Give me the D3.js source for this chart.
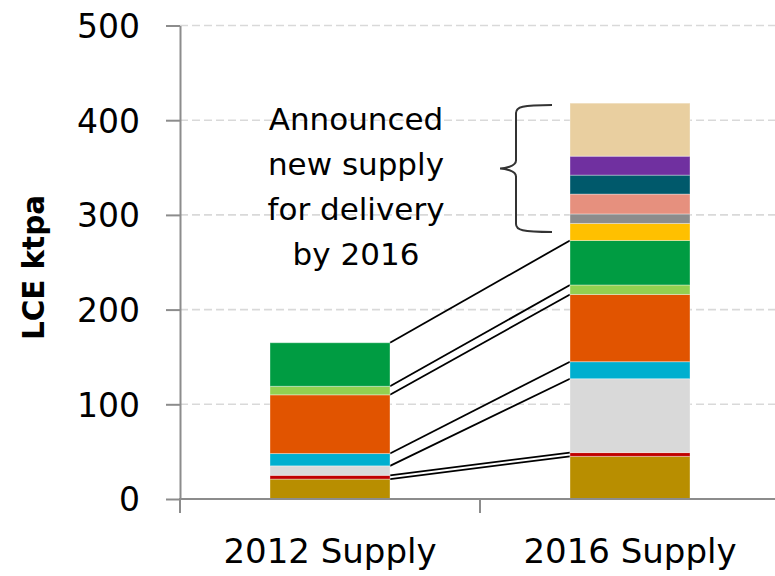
<!DOCTYPE html>
<html>
<head>
<meta charset="utf-8">
<script src="https://cdn.jsdelivr.net/npm/d3@7"></script>
<style>
  html, body { margin: 0; padding: 0; background: #fff; }
  svg { display: block; font-family: "DejaVu Sans", sans-serif; }
</style>
</head>
<body>
<svg id="chart" width="775" height="576"></svg>
<script>
// ---- data ----
const categories = ["2012 Supply", "2016 Supply"];
const seriesNames = ["s1", "s2", "s3", "s4", "s5", "s6", "s7", "s8", "s9", "s10", "s11", "s12", "s13"];
const seriesColors = ["#B88E00", "#C00000", "#D9D9D9", "#00AFCF", "#E15400", "#92D050", "#009C42",
                      "#FFC000", "#8C8C8C", "#E6907E", "#00596B", "#7030A0", "#E9CFA0"];
const values2012 = [21, 4, 10, 13, 62, 9, 46, 0, 0, 0, 0, 0, 0];
const values2016 = [45, 4, 78, 18, 71, 10, 47, 18, 10, 21, 20, 20, 56];
const yTicks = [0, 100, 200, 300, 400, 500];
const yTitle = "LCE ktpa";
const noteLines = ["Announced", "new supply", "for delivery", "by 2016"];
const braceRange = [416, 282];

// ---- layout ----
const svg = d3.select("#chart");
const mLeft = 180, mRight = 780, mTop = 25.5, mBottom = 499;

const y = d3.scaleLinear().domain([0, 500]).range([mBottom, mTop]);
const x = d3.scaleBand().domain(categories).range([mLeft, mRight])
  .paddingInner(0.6).paddingOuter(0.3);

// gridlines
svg.append("g").selectAll("line")
  .data(yTicks.filter(d => d > 0))
  .join("line")
  .attr("x1", mLeft).attr("x2", 775)
  .attr("y1", d => y(d)).attr("y2", d => y(d))
  .attr("stroke", "#d9d9d9").attr("stroke-width", 1.6)
  .attr("stroke-dasharray", "8,4");

// stacked data
const valuesByCat = [values2012, values2016];
const stacks = valuesByCat.map((vals, ci) => {
  let acc = 0;
  return vals.map((v, i) => {
    const s = { cat: categories[ci], i, y0: acc, y1: acc + v, v };
    acc += v;
    return s;
  });
});

// connector lines
const connectors = seriesNames.map((n, i) => i).filter(i => values2012[i] > 0);
svg.append("g").selectAll("line")
  .data(connectors)
  .join("line")
  .attr("x1", x(categories[0]) + x.bandwidth())
  .attr("x2", x(categories[1]))
  .attr("y1", i => y(stacks[0][i].y1))
  .attr("y2", i => y(stacks[1][i].y1))
  .attr("stroke", "#000").attr("stroke-width", 1.8);

// bars
const barG = svg.append("g");
stacks.forEach(st => {
  barG.selectAll(null)
    .data(st.filter(d => d.v > 0))
    .join("rect")
    .attr("x", d => x(d.cat))
    .attr("width", x.bandwidth())
    .attr("y", d => y(d.y1))
    .attr("height", d => y(d.y0) - y(d.y1))
    .attr("fill", d => seriesColors[d.i])
    .attr("stroke", "#ffffff").attr("stroke-opacity", 0.35).attr("stroke-width", 1);
});

// y axis
const yAxis = d3.axisLeft(y).tickValues(yTicks).tickSize(14).tickSizeOuter(0).tickPadding(26);
const yg = svg.append("g").attr("transform", `translate(${mLeft},0)`).call(yAxis);
yg.select(".domain").attr("stroke", "#8c8c8c").attr("stroke-width", 2);
yg.selectAll(".tick line").attr("stroke", "#8c8c8c").attr("stroke-width", 2);
yg.selectAll(".tick text").attr("font-size", 33).attr("font-family", "DejaVu Sans")
  .attr("fill", "#000").attr("dy", "0.36em");

// x axis
const boundaries = categories.map(c => x(c) - x.step() * x.paddingInner() / 2)
  .concat([x(categories[categories.length - 1]) + x.bandwidth() + x.step() * x.paddingInner() / 2]);
svg.append("line").attr("x1", mLeft - 1).attr("x2", 775).attr("y1", mBottom).attr("y2", mBottom)
  .attr("stroke", "#8c8c8c").attr("stroke-width", 2);
svg.append("g").selectAll("line").data(boundaries).join("line")
  .attr("x1", d => d).attr("x2", d => d).attr("y1", mBottom).attr("y2", mBottom + 14)
  .attr("stroke", "#8c8c8c").attr("stroke-width", 2);
svg.append("g").selectAll("text").data(categories).join("text")
  .attr("x", d => x(d) + x.bandwidth() / 2)
  .attr("y", 563)
  .attr("text-anchor", "middle")
  .attr("font-size", 34)
  .attr("fill", "#000")
  .text(d => d);

// y title
svg.append("text")
  .attr("transform", `translate(44,${(195 + 340) / 2}) rotate(-90)`)
  .attr("text-anchor", "middle")
  .attr("font-size", 31).attr("font-weight", "bold")
  .attr("textLength", 145).attr("lengthAdjust", "spacingAndGlyphs")
  .attr("fill", "#000")
  .text(yTitle);

// annotation text
svg.append("g").selectAll("text").data(noteLines).join("text")
  .attr("x", 356)
  .attr("y", (d, i) => 130 + i * 45)
  .attr("text-anchor", "middle")
  .attr("font-size", 31)
  .attr("fill", "#000")
  .text(d => d);

// brace
const bt = y(braceRange[0]), bb = y(braceRange[1]);
const bm = (bt + bb) / 2;
const xe = 552, xv = 516, xt = 500, r = 8;
const bracePath = `M${xe},${bt} C${xv + 6},${bt} ${xv},${bt + 2} ${xv},${bt + r}
  L${xv},${bm - r} C${xv},${bm - 2} ${xt + 4},${bm} ${xt},${bm}
  C${xt + 4},${bm} ${xv},${bm + 2} ${xv},${bm + r}
  L${xv},${bb - r} C${xv},${bb - 2} ${xv + 6},${bb} ${xe},${bb}`;
svg.append("path").attr("d", bracePath).attr("fill", "none")
  .attr("stroke", "#333").attr("stroke-width", 2);
</script>
</body>
</html>
